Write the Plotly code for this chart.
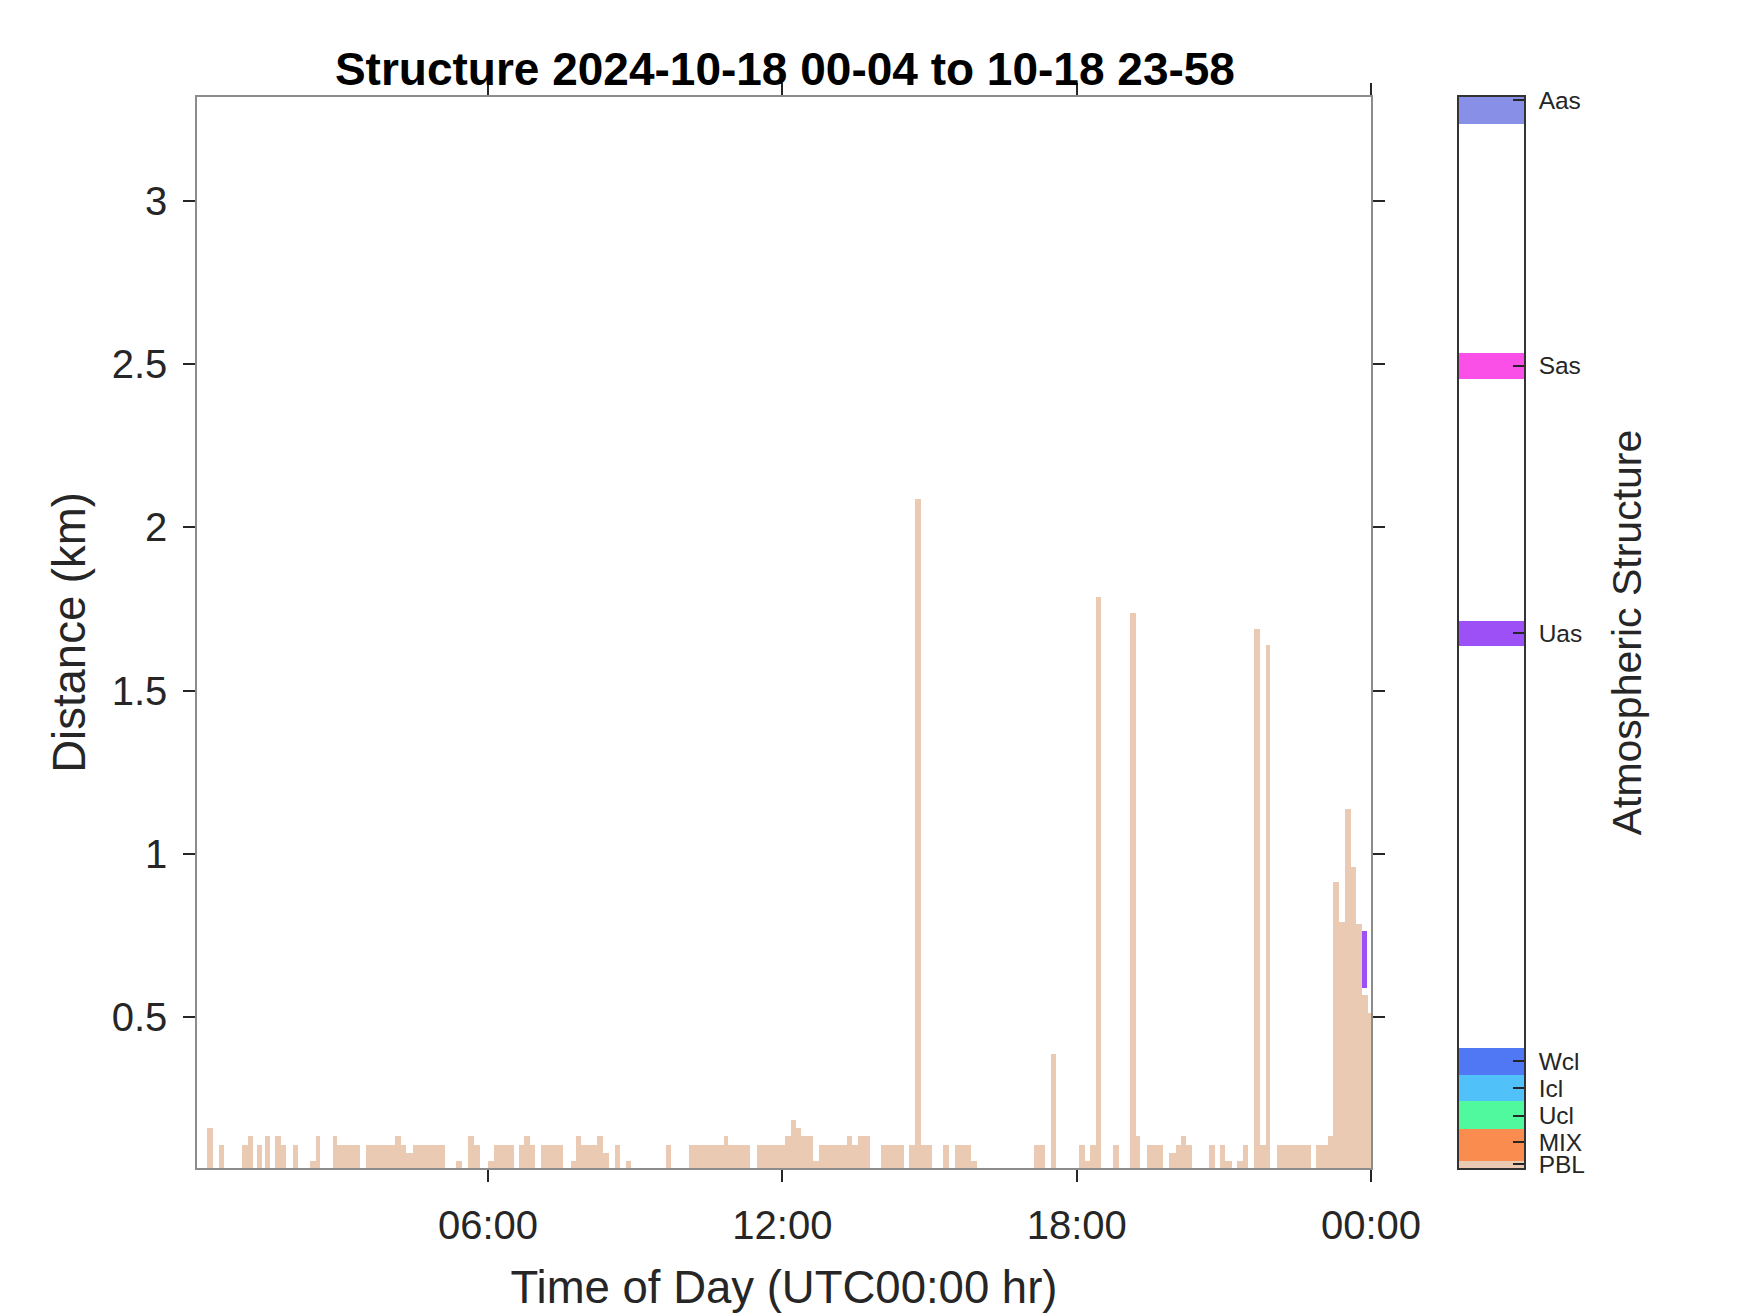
import pandas as pd
import plotly.graph_objects as go

# PBL segments: start/end in minutes after 2024-10-18 00:00, top height in km
seg_start = [16, 31, 59, 66, 77, 87, 100, 107, 122, 142,
             149, 170, 175, 211, 246, 253, 260, 268, 321, 336,
             343, 360, 367, 398, 404, 411, 425, 462, 467, 474,
             493, 501, 515, 529, 578, 606, 648, 653, 689, 723,
             731, 737, 743, 758, 765, 799, 805, 813, 841, 875,
             882, 889, 917, 931, 951, 1028, 1048, 1083, 1090, 1096,
             1104, 1125, 1145, 1152, 1166, 1193, 1201, 1207, 1214, 1242,
             1255, 1262, 1276, 1283, 1297, 1304, 1311, 1325, 1373, 1388,
             1394, 1401, 1408, 1415, 1422, 1429, 1436]
seg_end = [23, 37, 66, 73, 83, 93, 107, 113, 128, 149,
           155, 175, 203, 246, 253, 260, 268, 307, 328, 343,
           350, 367, 392, 404, 411, 418, 452, 467, 474, 493,
           501, 508, 522, 535, 584, 648, 653, 681, 723, 731,
           737, 743, 758, 765, 799, 805, 813, 827, 869, 882,
           889, 903, 924, 951, 958, 1041, 1055, 1090, 1096, 1104,
           1110, 1132, 1152, 1158, 1186, 1201, 1207, 1214, 1221, 1249,
           1262, 1270, 1283, 1290, 1304, 1311, 1317, 1366, 1388, 1394,
           1401, 1408, 1415, 1422, 1429, 1436, 1440]
seg_height = [0.16, 0.107, 0.107, 0.133, 0.107, 0.133, 0.133, 0.107, 0.107, 0.056,
              0.133, 0.133, 0.107, 0.107, 0.133, 0.107, 0.082, 0.107, 0.056, 0.133,
              0.107, 0.056, 0.107, 0.107, 0.133, 0.107, 0.107, 0.056, 0.133, 0.107,
              0.133, 0.082, 0.107, 0.056, 0.107, 0.107, 0.133, 0.107, 0.107, 0.133,
              0.184, 0.16, 0.133, 0.056, 0.107, 0.133, 0.107, 0.133, 0.107, 0.107,
              2.087, 0.107, 0.107, 0.107, 0.056, 0.107, 0.387, 0.107, 0.056, 0.107,
              1.786, 0.107, 1.738, 0.133, 0.107, 0.082, 0.107, 0.133, 0.107, 0.107,
              0.107, 0.056, 0.056, 0.107, 1.69, 0.107, 1.64, 0.107, 0.107, 0.133,
              0.914, 0.79, 1.138, 0.96, 0.785, 0.565, 0.51]

# Uas layer (minutes, km bottom/top)
uas_start, uas_end = [1429.5], [1435]
uas_bottom, uas_top = [0.589], [0.763]

# colorbar classes
classes = ['PBL', 'MIX', 'Ucl', 'Icl', 'Wcl', 'Uas', 'Sas', 'Aas']
class_lo = [0, 0.25, 1.47, 2.49, 3.48, 19.49, 29.48, 38.99]
class_hi = [0.25, 1.47, 2.49, 3.48, 4.48, 20.44, 30.45, 40]
class_tick = [0.15, 0.97, 1.96, 2.99, 3.98, 19.97, 29.97, 39.87]
class_colors = ['#EBCAB3', '#FB8C50', '#50F99D', '#50C1F9', '#5078F5',
                '#9D50F5', '#FA50E8', '#878FE6']

x_ticks = ['2024-10-18 06:00', '2024-10-18 12:00', '2024-10-18 18:00', '2024-10-19 00:00']
x_ticktext = ['06:00', '12:00', '18:00', '00:00']
y_ticks = [0.5, 1, 1.5, 2, 2.5, 3]
y_ticktext = ['0.5', '1', '1.5', '2', '2.5', '3']

day0 = pd.Timestamp('2024-10-18 00:00')


def mid_time(a, b):
    return day0 + pd.Timedelta(minutes=(a + b) / 2)


FONT = 'Liberation Sans, Arial, sans-serif'
TXT = '#262626'
PBL_COLOR = class_colors[0]

fig = go.Figure()

fig.add_trace(go.Bar(
    x=[mid_time(a, b) for a, b in zip(seg_start, seg_end)],
    y=seg_height,
    base=0,
    width=[(b - a) * 60000 for a, b in zip(seg_start, seg_end)],
    marker=dict(color=PBL_COLOR, line=dict(width=0)),
    showlegend=False,
    xaxis='x', yaxis='y'
))

fig.add_trace(go.Bar(
    x=[mid_time(a, b) for a, b in zip(uas_start, uas_end)],
    y=[t - b for b, t in zip(uas_bottom, uas_top)],
    base=uas_bottom,
    width=[(b - a) * 60000 for a, b in zip(uas_start, uas_end)],
    marker=dict(color=class_colors[5], line=dict(width=0)),
    showlegend=False,
    xaxis='x', yaxis='y'
))

# colorbar drawn as stacked class bands
fig.add_trace(go.Bar(
    x=[0] * len(classes),
    y=[h - l for l, h in zip(class_lo, class_hi)],
    base=class_lo,
    width=1,
    marker=dict(color=class_colors, line=dict(width=0)),
    showlegend=False,
    xaxis='x2', yaxis='y2'
))

# page body adds 8px, so the figure is a bit smaller than the window
fig.update_layout(
    width=1742, height=1305,
    margin=dict(l=189, r=226, t=89, b=145),
    paper_bgcolor='white', plot_bgcolor='white',
    barmode='overlay', bargap=0,
    font=dict(family=FONT, color=TXT),
    title=dict(
        text='<b>Structure 2024-10-18 00-04 to 10-18 23-58</b>',
        x=0.446, xanchor='center', y=0.9533, yanchor='middle',
        font=dict(family=FONT, size=46, color='black')
    ),
    xaxis=dict(
        domain=[0, 0.8847],
        type='date', automargin=False,
        range=['2024-10-18 00:04', '2024-10-19 00:00'],
        tickvals=x_ticks, ticktext=x_ticktext,
        ticks='outside', ticklen=12, tickwidth=1.5, tickcolor=TXT,
        showline=True, linecolor='#8c8c8c', linewidth=1.5, mirror='ticks',
        showgrid=False, zeroline=False,
        tickfont=dict(size=40, color=TXT),
        ticklabelstandoff=9,
        title=dict(text='Time of Day (UTC00:00 hr)', font=dict(size=45.5, color=TXT), standoff=25),
    ),
    yaxis=dict(
        range=[0.036, 3.32], automargin=False,
        tickvals=y_ticks, ticktext=y_ticktext,
        ticks='outside', ticklen=12, tickwidth=1.5, tickcolor=TXT,
        showline=True, linecolor='#8c8c8c', linewidth=1.5, mirror='ticks',
        showgrid=False, zeroline=False,
        tickfont=dict(size=40, color=TXT),
        ticklabelstandoff=8,
        title=dict(text='Distance (km)', font=dict(size=45.5, color=TXT), standoff=12),
    ),
    xaxis2=dict(
        domain=[0.951, 1], anchor='y2', automargin=False,
        range=[-0.5, 0.5],
        showticklabels=False, ticks='',
        showline=True, linecolor='#333333', linewidth=1.5, mirror=True,
        showgrid=False, zeroline=False,
    ),
    yaxis2=dict(
        domain=[0, 1], anchor='x2', side='right', automargin=False,
        range=[0, 40],
        tickvals=class_tick, ticktext=classes,
        ticks='inside', ticklen=11, tickwidth=1.5, tickcolor=TXT,
        showline=True, linecolor='#333333', linewidth=1.5, mirror=True,
        showgrid=False, zeroline=False,
        tickfont=dict(size=24.5, color=TXT),
        ticklabelstandoff=8,
        title=dict(text='Atmospheric Structure', font=dict(size=41, color=TXT), standoff=28),
    ),
)

fig.write_html('out.html')
